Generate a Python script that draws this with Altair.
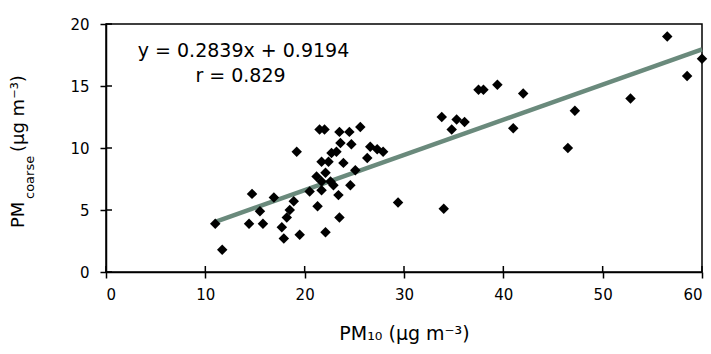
import altair as alt
import pandas as pd

# ---- data ----
pm10 = [11.0, 11.7, 14.4, 14.7, 15.5, 15.8, 16.9, 17.7, 17.9, 18.2, 18.5, 18.9,
        19.2, 19.5, 20.5, 21.2, 21.3, 21.5, 21.7, 21.7, 21.7, 22.0, 22.1, 22.1,
        22.4, 22.6, 22.7, 22.9, 23.2, 23.4, 23.5, 23.5, 23.6, 23.9, 24.5, 24.6,
        24.7, 25.1, 25.6, 26.3, 26.6, 27.3, 27.9, 29.4, 33.8, 34.0, 34.8, 35.3,
        36.1, 37.5, 38.0, 39.4, 41.0, 42.0, 46.5, 47.2, 52.8, 56.5, 58.5, 60.0]
pm_coarse = [3.9, 1.8, 3.9, 6.3, 4.9, 3.9, 6.0, 3.6, 2.7, 4.4, 5.0, 5.7,
             9.7, 3.0, 6.5, 7.7, 5.3, 11.5, 8.9, 7.3, 6.6, 11.5, 8.0, 3.2,
             8.9, 7.3, 9.6, 7.0, 9.7, 6.2, 11.3, 4.4, 10.4, 8.8, 11.3, 7.0,
             10.3, 8.2, 11.7, 9.2, 10.1, 9.9, 9.7, 5.6, 12.5, 5.1, 11.5, 12.3,
             12.1, 14.7, 14.7, 15.1, 11.6, 14.4, 10.0, 13.0, 14.0, 19.0, 15.8, 17.2]

slope = 0.2839
intercept = 0.9194
fit_x = [11.0, 60.0]

x_ticks = [0, 10, 20, 30, 40, 50, 60]
y_ticks = [0, 5, 10, 15, 20]

eq_text = ["y = 0.2839x + 0.9194", "r = 0.829"]
eq_x = [3.2, 9.0]
eq_y = [17.8, 15.8]

x_title = "PM₁₀ (µg m⁻³)"
y_title_parts = ["PM", "coarse", " (µg m⁻³)"]

FONT = "DejaVu Sans"
W, H = 596, 248

pts = pd.DataFrame({"x": pm10, "y": pm_coarse})
fit = pd.DataFrame({"x": fit_x, "y": [slope * v + intercept for v in fit_x]})
eq = pd.DataFrame({"t": eq_text, "x": eq_x, "y": eq_y})
xt = pd.DataFrame({"v": x_ticks})
yt = pd.DataFrame({"v": y_ticks})

xscale = alt.Scale(domain=[0, 60], nice=False, zero=False)
yscale = alt.Scale(domain=[0, 20], nice=False, zero=False)

xaxis = alt.Axis(values=x_ticks, grid=False, tickSize=6, tickWidth=1.5, tickColor="black",
                 domainColor="black", domainWidth=1.5, labelFont=FONT, labelFontSize=15,
                 labelColor="black", labelPadding=9, title=x_title, titleFont=FONT,
                 titleFontSize=19, titleFontWeight="normal", titleColor="black",
                 titlePadding=22)
yaxis = alt.Axis(values=y_ticks, grid=False, tickSize=6, tickWidth=1.5, tickColor="black",
                 domainColor="black", domainWidth=1.5, labelFont=FONT, labelFontSize=15,
                 labelColor="black", labelPadding=11, title=None)

points = alt.Chart(pts).mark_point(shape="diamond", filled=True, color="black",
                                   size=110, opacity=1).encode(
    x=alt.X("x:Q", scale=xscale, axis=xaxis),
    y=alt.Y("y:Q", scale=yscale, axis=yaxis),
)

line = alt.Chart(fit).mark_line(color="#6a8a7c", strokeWidth=4.5).encode(
    x=alt.X("x:Q", scale=xscale),
    y=alt.Y("y:Q", scale=yscale),
)

eq_layer = alt.Chart(eq).mark_text(align="left", baseline="middle", font=FONT,
                                   fontSize=19, color="black").encode(
    x=alt.X("x:Q", scale=xscale),
    y=alt.Y("y:Q", scale=yscale),
    text="t:N",
)

xticks_in = alt.Chart(xt).mark_rule(color="black", strokeWidth=1.5).encode(
    x=alt.X("v:Q", scale=xscale), y=alt.value(H - 6), y2=alt.value(H))
yticks_in = alt.Chart(yt).mark_rule(color="black", strokeWidth=1.5).encode(
    y=alt.Y("v:Q", scale=yscale), x=alt.value(0), x2=alt.value(6))

ytitle_df = pd.DataFrame({"t": y_title_parts,
                          "px": [-87, -76, -87],
                          "py": [204, 175, 128],
                          "fs": [18, 13, 18]})
ytitle = alt.Chart(ytitle_df).mark_text(angle=270, align="left", baseline="middle",
                                        font=FONT, color="black").encode(
    x=alt.X("px:Q", scale=None),
    y=alt.Y("py:Q", scale=None),
    text="t:N",
    size=alt.Size("fs:Q", scale=None, legend=None),
)

chart = alt.layer(line, points, eq_layer, xticks_in, yticks_in, ytitle).properties(
    width=W, height=H,
    autosize=alt.AutoSizeParams(type="none"),
    padding={"left": 106, "top": 24, "right": 9, "bottom": 82},
    background="white",
).configure_view(stroke="black", strokeWidth=1.5)

chart.save("out.html", embed_options={"renderer": "svg", "actions": False})
